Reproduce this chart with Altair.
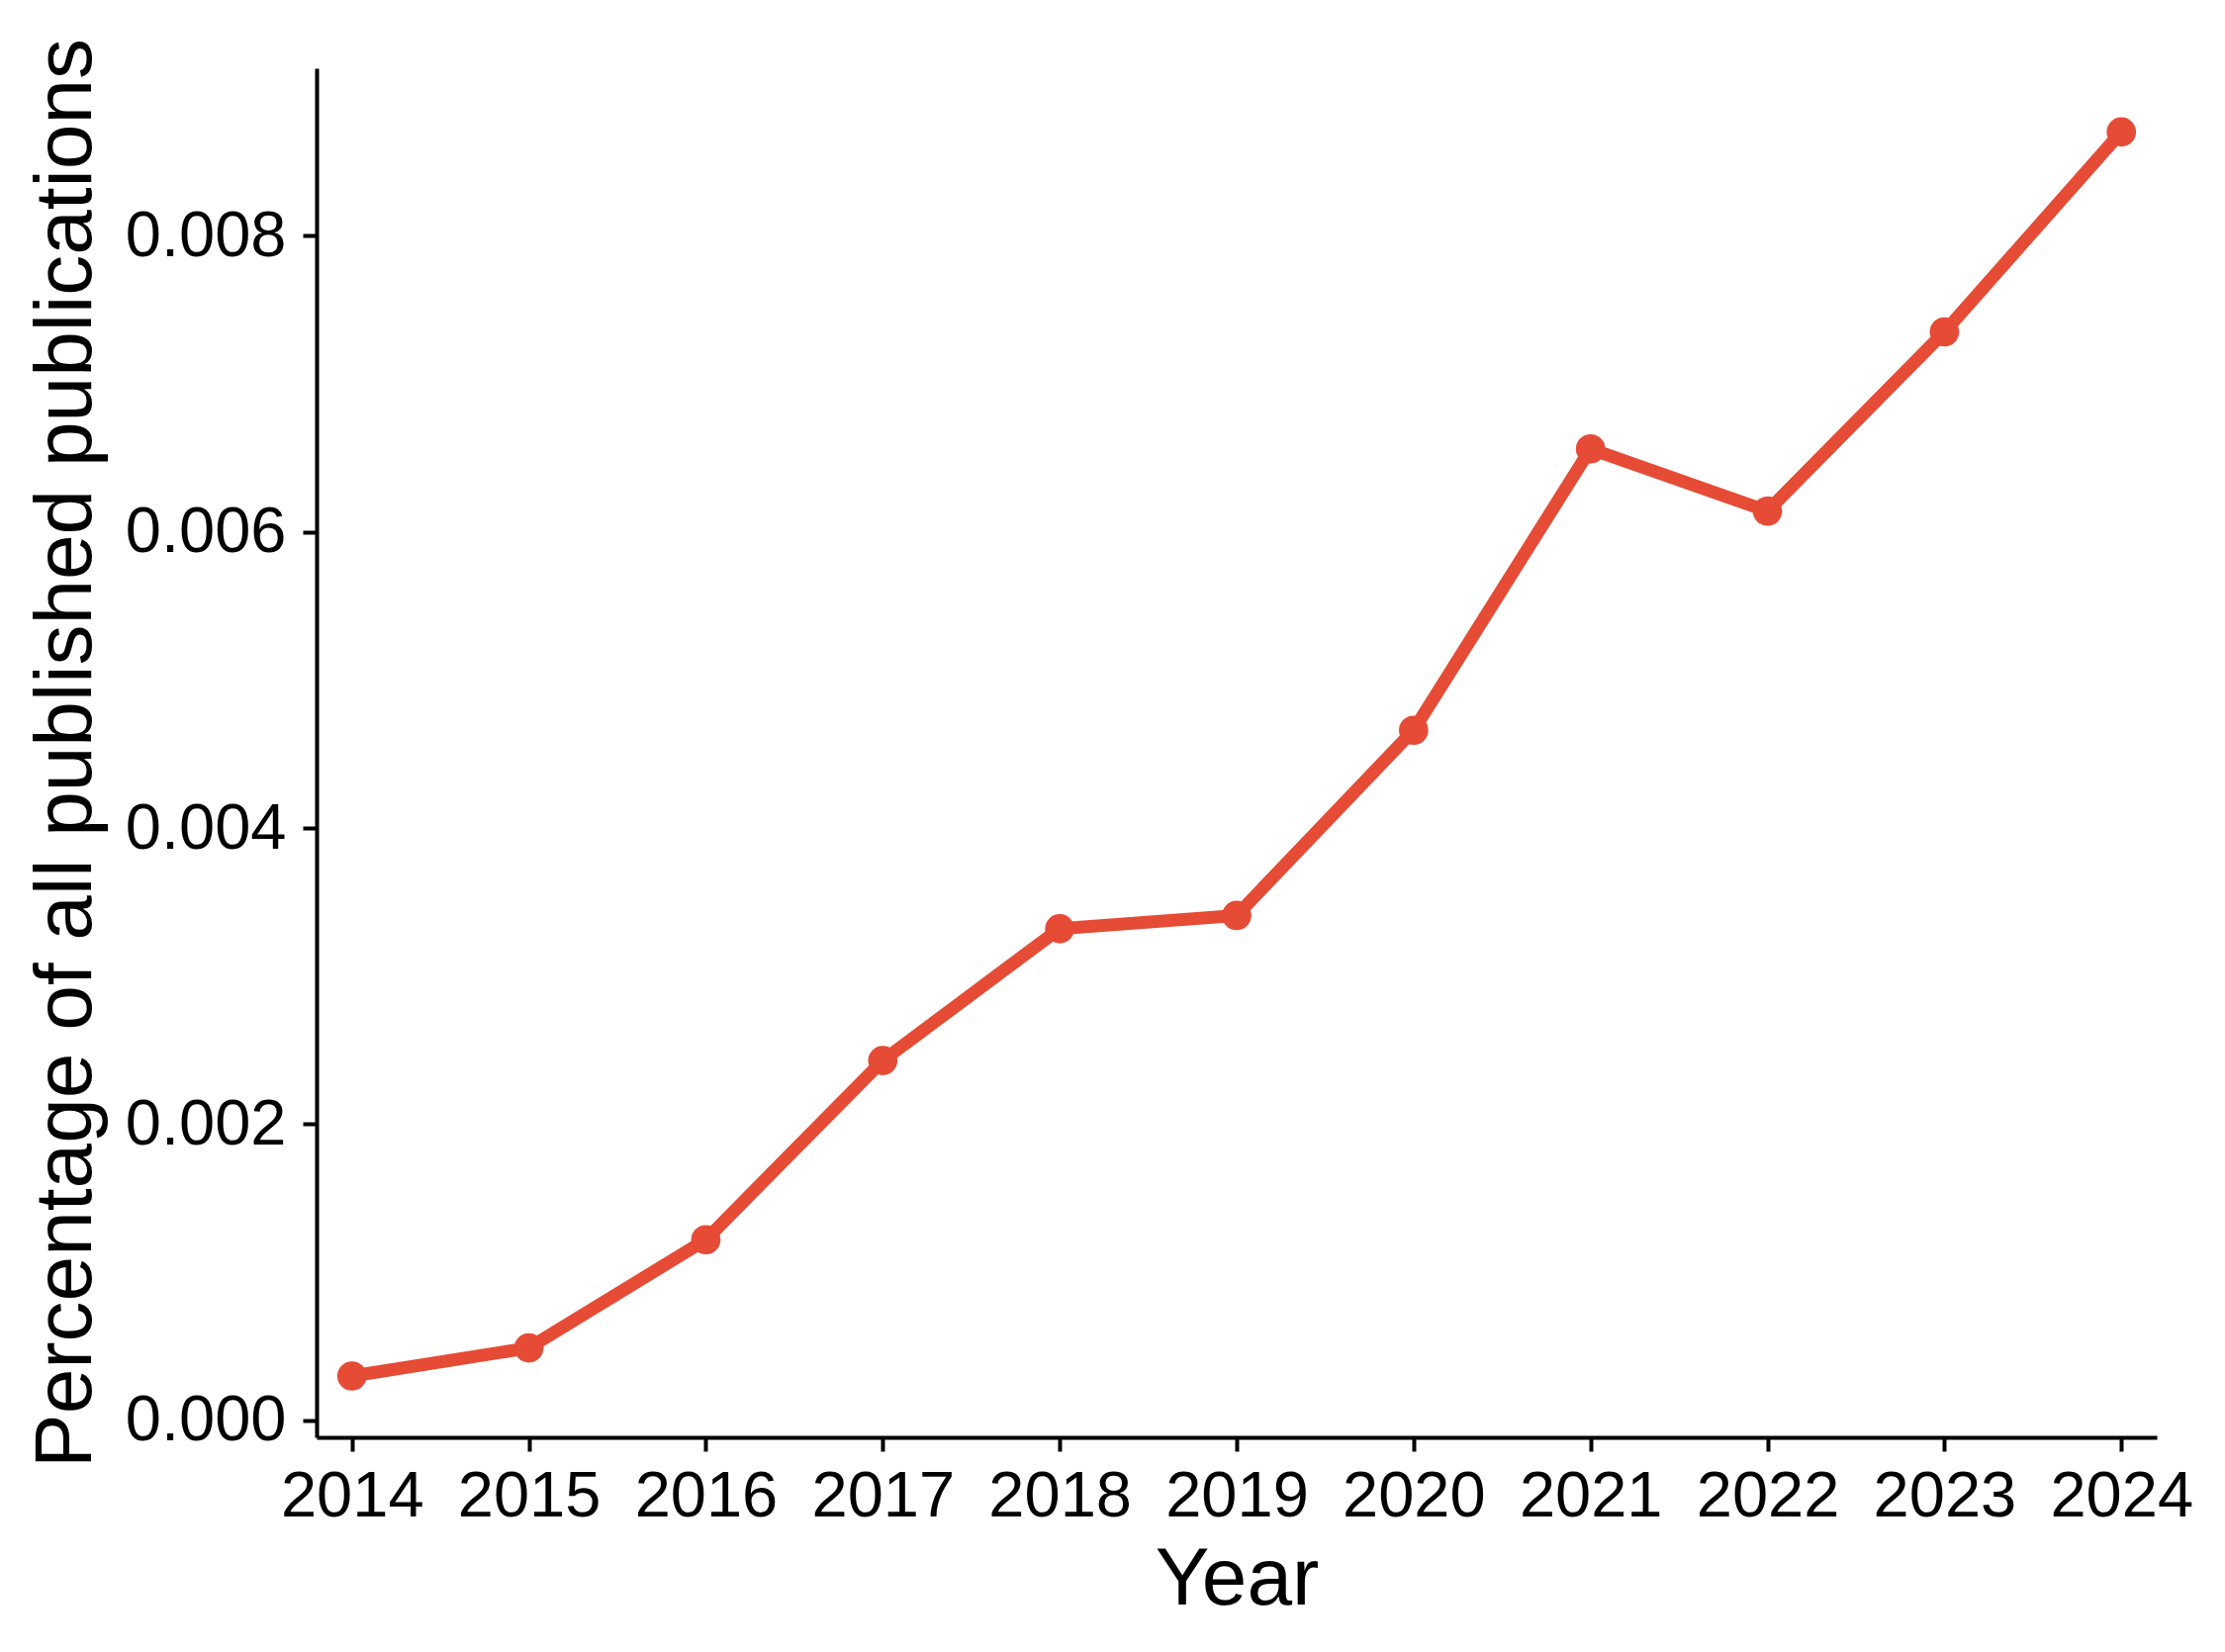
import altair as alt
import pandas as pd

years = [2014, 2015, 2016, 2017, 2018, 2019, 2020, 2021, 2022, 2023, 2024]
values = [0.00030, 0.00049, 0.00122, 0.00243, 0.00332, 0.00341, 0.00466, 0.00656, 0.00614, 0.00735, 0.00870]
y_ticks = [0.000, 0.002, 0.004, 0.006, 0.008]

df = pd.DataFrame({"Year": years, "Value": values})

COLOR = "#E64B35"
FONT = "Liberation Sans"

PLOT_W = 1860
PLOT_H = 1384

x_enc = alt.X(
    "Year:Q",
    scale=alt.Scale(domain=[2013.8, 2024.2], nice=False, zero=False),
    axis=alt.Axis(
        values=years, format="d", title="Year",
        labelFontSize=65, titleFontSize=82, labelFont=FONT, titleFont=FONT,
        labelColor="black", titleColor="black", titleFontWeight="normal",
        domainColor="black", domainWidth=4, tickColor="black", tickWidth=4,
        tickSize=14, labelPadding=14, grid=False, labelFlush=False,
        titleBaseline="alphabetic", titleY=168,
    ),
)
y_enc = alt.Y(
    "Value:Q",
    scale=alt.Scale(domain=[-0.000114, 0.00913], nice=False, zero=False),
    axis=alt.Axis(
        values=y_ticks, format=".3f", title="Percentage of all published publications",
        labelFontSize=65, titleFontSize=82, labelFont=FONT, titleFont=FONT,
        labelColor="black", titleColor="black", titleFontWeight="normal",
        domainColor="black", domainWidth=4, tickColor="black", tickWidth=4,
        tickSize=14, labelPadding=17, grid=False, labelFlush=False,
        titleBaseline="alphabetic", titleAngle=-90, titleAlign="center",
        titleX=-229, titleY=PLOT_H / 2,
    ),
)

base = alt.Chart(df).encode(x=x_enc, y=y_enc)
line = base.mark_line(color=COLOR, strokeWidth=13)
points = base.mark_circle(color=COLOR, size=880, opacity=1)

chart = (line + points).properties(
    width=PLOT_W,
    height=PLOT_H,
    autosize=alt.AutoSizeParams(type="none"),
    padding={"left": 312, "top": 61, "right": 60, "bottom": 200},
    background="white",
).configure_view(stroke=None)

chart.save("out.html", embed_options={"renderer": "svg", "actions": False})
